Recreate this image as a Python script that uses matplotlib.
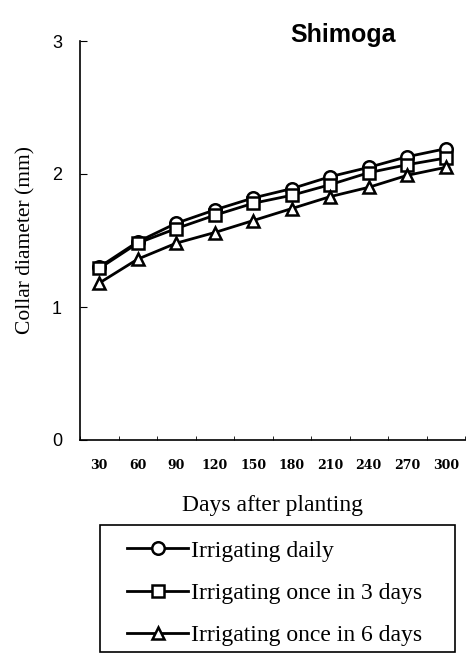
import matplotlib.pyplot as plt
from matplotlib.patches import Rectangle
import numpy as np

days = [30, 60, 90, 120, 150, 180, 210, 240, 270, 300]
daily = [1.30, 1.49, 1.63, 1.73, 1.82, 1.89, 1.98, 2.05, 2.13, 2.19]
once_3 = [1.29, 1.48, 1.59, 1.69, 1.78, 1.84, 1.92, 2.01, 2.07, 2.12]
once_6 = [1.18, 1.36, 1.48, 1.56, 1.65, 1.74, 1.83, 1.90, 1.99, 2.05]
labels = ['Irrigating daily', 'Irrigating once in 3 days', 'Irrigating once in 6 days']

W, H = 472, 658
fig = plt.figure(figsize=(W / 100, H / 100), dpi=100)
ax = fig.add_axes([80 / W, (H - 440) / H, 385 / W, 399 / H])

x = np.arange(len(days))
series = [daily, once_3, once_6]
markers = ['o', 's', '^']
lines = []
for vals, m, lab in zip(series, markers, labels):
    ln, = ax.plot(x, vals, color='black', lw=2, marker=m, markersize=9,
                  markerfacecolor='white', markeredgecolor='black',
                  markeredgewidth=1.8, label=lab)
    lines.append(ln)

ax.set_xlim(-0.5, len(days) - 0.5)
ax.set_ylim(0, 3)
ax.spines['top'].set_visible(False)
ax.spines['right'].set_visible(False)
ax.spines['left'].set_linewidth(1.2)
ax.spines['bottom'].set_linewidth(1.2)

ax.set_xticks(x)
ax.set_xticklabels([str(d) for d in days], family='DejaVu Serif',
                   fontsize=9, fontweight='bold')
ax.set_xticks(np.arange(len(days) + 1) - 0.5, minor=True)
ax.tick_params(axis='x', which='major', length=0, pad=14)
ax.tick_params(axis='x', which='minor', direction='in', length=3)

ax.set_yticks([0, 1, 2, 3])
ax.set_yticklabels(['0', '1', '2', '3'], family='Liberation Sans', fontsize=13)
ax.tick_params(axis='y', direction='in', length=5, pad=13)

ax.set_xlabel('Days after planting', family='Liberation Serif', fontsize=17, labelpad=16)
ax.set_ylabel('Collar diameter (mm)', family='Liberation Serif', fontsize=15.5, labelpad=12)

fig.text(343 / W, 1 - 35 / H, 'Shimoga', family='Liberation Sans',
         fontsize=18, fontweight='bold', ha='center', va='center')

# legend box drawn separately so the padding matches the original
fig.patches.append(Rectangle((100 / W, 1 - 652 / H), 355 / W, 127 / H,
                             transform=fig.transFigure, fill=False,
                             edgecolor='black', lw=1.2))
fig.legend(handles=lines, loc='upper left',
           bbox_to_anchor=(127 / W, 1 - 540 / H),
           prop={'family': 'Liberation Serif', 'size': 17},
           frameon=False, handlelength=2.6, handletextpad=0.1,
           labelspacing=0.88, borderpad=0, borderaxespad=0)

fig.savefig('out.png', dpi=100)
